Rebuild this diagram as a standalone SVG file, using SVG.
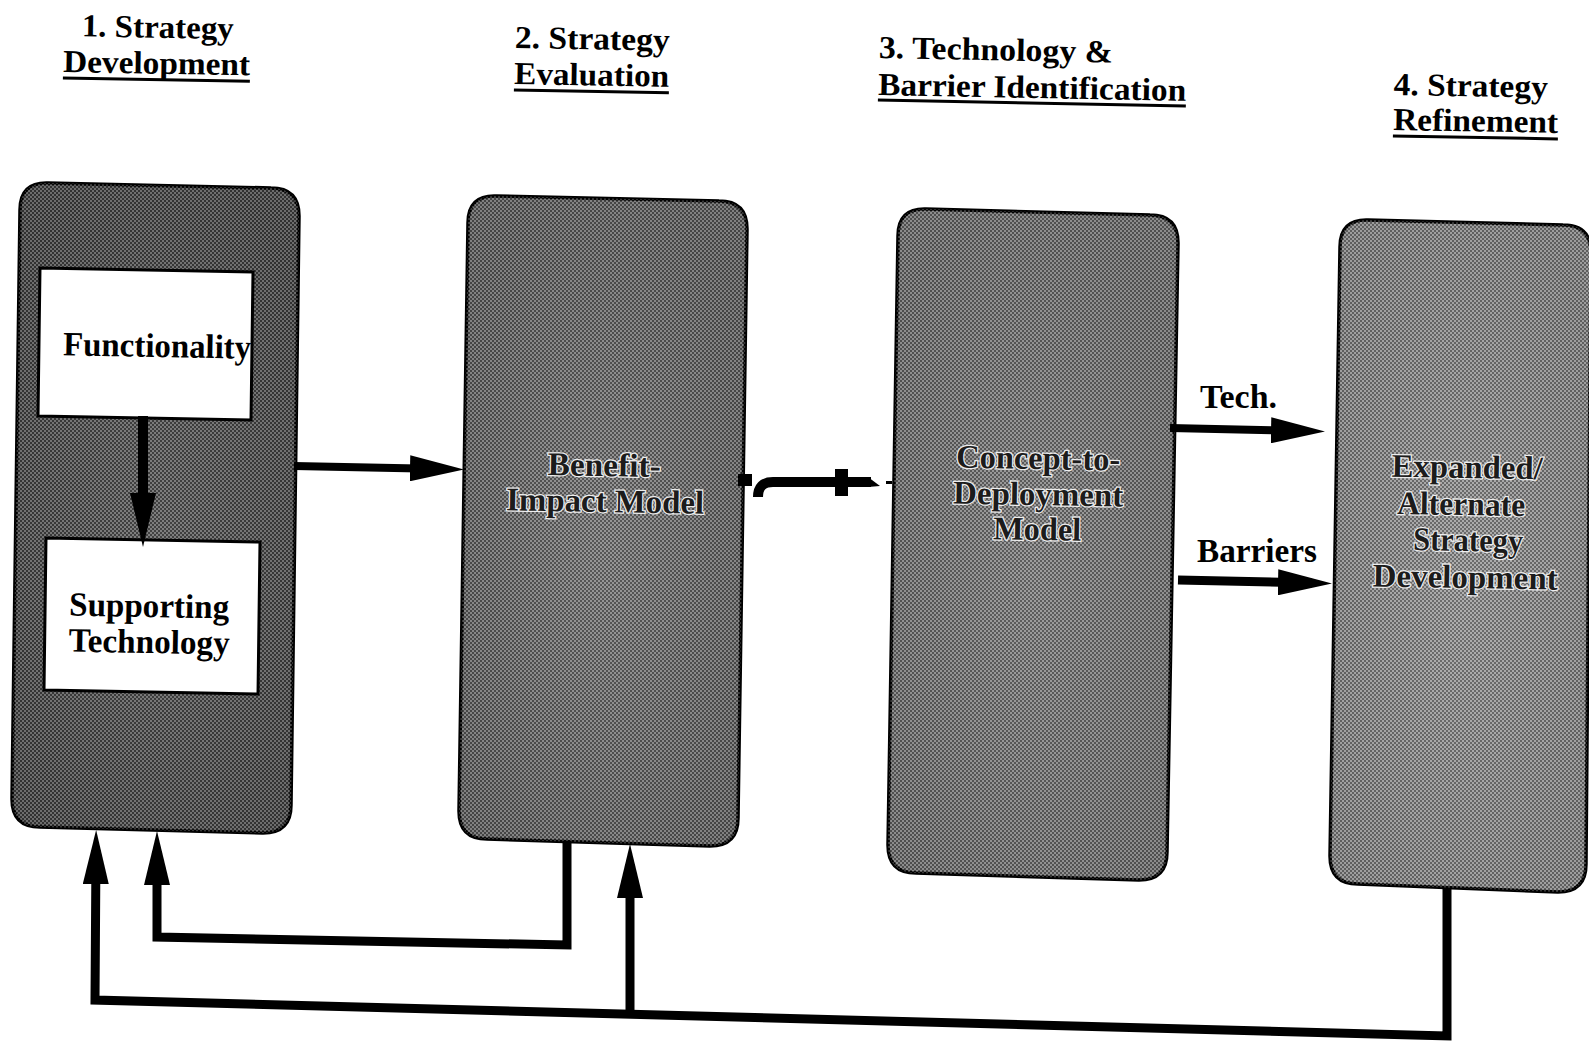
<svg xmlns="http://www.w3.org/2000/svg" width="1589" height="1043" viewBox="0 0 1589 1043">
<style>
.title{font-family:"Liberation Serif","Times New Roman",serif;font-weight:bold;font-size:32px;fill:#000}
.lbl{font-family:"Liberation Serif","Times New Roman",serif;font-weight:bold;font-size:34px;fill:#000}
.emb{font-family:"Liberation Serif","Times New Roman",serif;font-weight:bold;font-size:33px;fill:#1c1c1c;stroke:#eeeeee;stroke-width:2.5px;paint-order:stroke;text-anchor:middle}
.ul{stroke:#000;stroke-width:3}
.box{stroke:#000;stroke-width:3.5}
.tex{fill:url(#dither);stroke:none}
.inner{fill:#fff;stroke:#000;stroke-width:3}
.conn{fill:none;stroke:#000;stroke-linejoin:miter}
</style>
<defs>
<pattern id="dither" width="4" height="4" patternUnits="userSpaceOnUse">
<rect width="2" height="2" fill="#000" opacity="0.28"/>
<rect x="2" y="2" width="2" height="2" fill="#000" opacity="0.28"/>
<rect x="2" width="2" height="2" fill="#fff" opacity="0.22"/>
<rect y="2" width="2" height="2" fill="#fff" opacity="0.22"/>
</pattern>
<radialGradient id="g1" cx="0.5" cy="0.55" r="0.6"><stop offset="0" stop-color="#5c5c5c"/><stop offset="1" stop-color="#444"/></radialGradient>
<radialGradient id="g2" cx="0.5" cy="0.55" r="0.6"><stop offset="0" stop-color="#7a7a7a"/><stop offset="1" stop-color="#5e5e5e"/></radialGradient>
<radialGradient id="g3" cx="0.5" cy="0.55" r="0.6"><stop offset="0" stop-color="#828282"/><stop offset="1" stop-color="#6c6c6c"/></radialGradient>
<radialGradient id="g4" cx="0.5" cy="0.55" r="0.6"><stop offset="0" stop-color="#989898"/><stop offset="1" stop-color="#828282"/></radialGradient>
<marker id="ah" markerUnits="userSpaceOnUse" viewBox="0 0 54 26" markerWidth="54" markerHeight="26" refX="34" refY="13" orient="auto">
<path d="M0,0 L54,13 L0,26 Z" fill="#000"/>
</marker>
</defs>
<rect width="1589" height="1043" fill="#fff"/>

<g id="titles">
<g id="title1" transform="rotate(1 63 72)">
<text class="title" x="81" y="36" textLength="152" lengthAdjust="spacingAndGlyphs">1. Strategy</text>
<text class="title" x="63" y="72" textLength="187" lengthAdjust="spacingAndGlyphs">Development</text>
<line class="ul" x1="63" y1="78" x2="250" y2="78"/>
</g>
<g id="title2" transform="rotate(1 514 84)">
<text class="title" x="514" y="48" textLength="155" lengthAdjust="spacingAndGlyphs">2. Strategy</text>
<text class="title" x="514" y="84" textLength="155" lengthAdjust="spacingAndGlyphs">Evaluation</text>
<line class="ul" x1="514" y1="90" x2="669" y2="90"/>
</g>
<g id="title3" transform="rotate(1.1 878 95)">
<text class="title" x="878" y="58" textLength="234" lengthAdjust="spacingAndGlyphs">3. Technology &amp;</text>
<text class="title" x="878" y="95" textLength="308" lengthAdjust="spacingAndGlyphs">Barrier Identification</text>
<line class="ul" x1="878" y1="100" x2="1186" y2="100"/>
</g>
<g id="title4" transform="rotate(1 1393 130)">
<text class="title" x="1393" y="95" textLength="154" lengthAdjust="spacingAndGlyphs">4. Strategy</text>
<text class="title" x="1393" y="130" textLength="165" lengthAdjust="spacingAndGlyphs">Refinement</text>
<line class="ul" x1="1393" y1="136" x2="1558" y2="136"/>
</g>
</g>

<g id="node1">
<path class="box" fill="url(#g1)" d="M48,183 L271,188 Q299,188 299,216 L291,805 Q291,833 263,833 L40,827 Q12,827 12,799 L20,210 Q20,182 48,183 Z"/>
<path class="tex" d="M48,183 L271,188 Q299,188 299,216 L291,805 Q291,833 263,833 L40,827 Q12,827 12,799 L20,210 Q20,182 48,183 Z"/>
</g>
<g id="node1a">
<polygon class="inner" points="40,268 253,272 251,420 38,416"/>
<text class="lbl" x="157" y="357" text-anchor="middle" textLength="188" lengthAdjust="spacingAndGlyphs" transform="rotate(1 157 357)">Functionality</text>
</g>
<g id="node1b">
<polygon class="inner" points="46,538 260,542 258,694 44,690"/>
<text class="lbl" x="149" y="617" text-anchor="middle" textLength="160" lengthAdjust="spacingAndGlyphs" transform="rotate(1 149 617)">Supporting</text>
<text class="lbl" x="149" y="653" text-anchor="middle" textLength="161" lengthAdjust="spacingAndGlyphs" transform="rotate(1 149 653)">Technology</text>
</g>

<g id="node2">
<path class="box" fill="url(#g2)" d="M496,196 L719,201 Q747,201 747,229 L738,818 Q738,846 710,846 L487,839 Q459,839 459,811 L468,223 Q468,195 496,196 Z"/>
<path class="tex" d="M496,196 L719,201 Q747,201 747,229 L738,818 Q738,846 710,846 L487,839 Q459,839 459,811 L468,223 Q468,195 496,196 Z"/>
<text class="emb" x="604" y="476" textLength="113" lengthAdjust="spacingAndGlyphs" transform="rotate(1 604 476)">Benefit-</text>
<text class="emb" x="605" y="512" textLength="198" lengthAdjust="spacingAndGlyphs" transform="rotate(1 605 512)">Impact Model</text>
</g>

<g id="node3">
<path class="box" fill="url(#g3)" d="M926,209 L1150,215 Q1178,215 1178,243 L1167,852 Q1167,880 1139,880 L916,873 Q888,873 888,845 L898,236 Q898,208 926,209 Z"/>
<path class="tex" d="M926,209 L1150,215 Q1178,215 1178,243 L1167,852 Q1167,880 1139,880 L916,873 Q888,873 888,845 L898,236 Q898,208 926,209 Z"/>
<text class="emb" x="1038" y="469" textLength="164" lengthAdjust="spacingAndGlyphs" transform="rotate(1 1038 469)">Concept-to-</text>
<text class="emb" x="1038" y="505" textLength="170" lengthAdjust="spacingAndGlyphs" transform="rotate(1 1038 505)">Deployment</text>
<text class="emb" x="1037" y="540" textLength="88" lengthAdjust="spacingAndGlyphs" transform="rotate(1 1037 540)">Model</text>
</g>

<g id="node4">
<path class="box" fill="url(#g4)" d="M1368,220 L1563,225 Q1591,225 1591,253 L1586,864 Q1586,892 1558,892 L1358,884 Q1330,884 1330,856 L1340,247 Q1340,219 1368,220 Z"/>
<path class="tex" d="M1368,220 L1563,225 Q1591,225 1591,253 L1586,864 Q1586,892 1558,892 L1358,884 Q1330,884 1330,856 L1340,247 Q1340,219 1368,220 Z"/>
<text class="emb" x="1467" y="478" textLength="151" lengthAdjust="spacingAndGlyphs" transform="rotate(1 1467 478)">Expanded/</text>
<text class="emb" x="1461" y="515" textLength="128" lengthAdjust="spacingAndGlyphs" transform="rotate(1 1461 515)">Alternate</text>
<text class="emb" x="1468" y="551" textLength="110" lengthAdjust="spacingAndGlyphs" transform="rotate(1 1468 551)">Strategy</text>
<text class="emb" x="1465" y="588" textLength="185" lengthAdjust="spacingAndGlyphs" transform="rotate(1 1465 588)">Development</text>
</g>

<g id="connectors">
<line class="conn" x1="143" y1="416" x2="143" y2="527" stroke-width="10" marker-end="url(#ah)"/>
<line class="conn" x1="294" y1="466" x2="444" y2="469" stroke-width="8" marker-end="url(#ah)"/>
<rect x="738" y="474" width="14" height="12" fill="#000"/>
<path class="conn" d="M758,497 Q758,482 773,482 L871,482" stroke-width="10"/>
<polygon points="868,477 880,486 868,487" fill="#000"/>
<rect x="835" y="469" width="13" height="27" fill="#000"/>
<rect x="886" y="481" width="6" height="3" fill="#000"/>
<line class="conn" x1="1170" y1="428" x2="1305" y2="431" stroke-width="8" marker-end="url(#ah)"/>
<text class="lbl" x="1200" y="408" textLength="77" lengthAdjust="spacingAndGlyphs">Tech.</text>
<line class="conn" x1="1178" y1="580" x2="1312" y2="583" stroke-width="9" marker-end="url(#ah)"/>
<text class="lbl" x="1197" y="562" textLength="120" lengthAdjust="spacingAndGlyphs">Barriers</text>
<path class="conn" d="M567,841 L567,945 L157,937 L157,851" stroke-width="9" marker-end="url(#ah)"/>
<path class="conn" d="M1447,889 L1447,1036 L95,1000 L96,850" stroke-width="9" marker-end="url(#ah)"/>
<line class="conn" x1="630" y1="1014" x2="630" y2="864" stroke-width="9" marker-end="url(#ah)"/>
</g>
</svg>
